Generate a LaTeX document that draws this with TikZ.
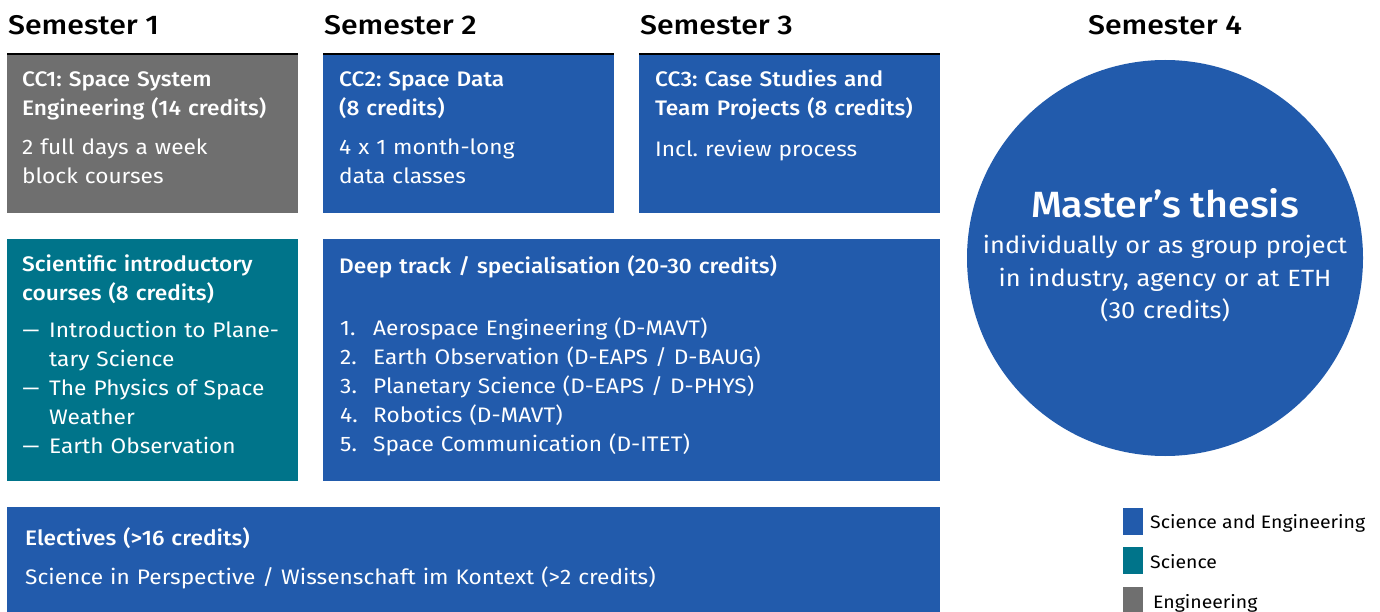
\documentclass[tikz,border=0pt]{standalone}
\usepackage{fontspec}
\setmainfont{Fira Sans}[BoldFont={Fira Sans Medium}, FakeStretch=1.08]
\newfontfamily\semfont{Fira Sans Medium}[FakeStretch=1.12]
\usepackage{tikz}
\usetikzlibrary{shapes.geometric, arrows}
\frenchspacing

\definecolor{sciengblue}{RGB}{34,91,172}
\definecolor{sciteal}{RGB}{0,116,138}
\definecolor{enggray}{RGB}{111,111,111}

\newcommand{\itemdash}{\makebox[27pt][l]{\scalebox{1.5}[1]{--}}}

\begin{document}
\begin{tikzpicture}[x=1pt,y=-1pt,inner sep=0pt,
  semhead/.style={anchor=base west,font=\semfont\fontsize{27}{32}\selectfont}]
\tikzstyle{block} = [rectangle, anchor=north west, draw=none]
\tikzstyle{head} = [anchor=base west, text width=290pt, align=left, text=white, font=\bfseries\fontsize{21}{29}\selectfont]
\tikzstyle{body} = [anchor=base west, text width=290pt, align=left, text=white, font=\fontsize{21}{29}\selectfont]
\tikzstyle{topline} = [line width=1.6pt, black]
\tikzstyle{legend} = [rectangle, anchor=north west, minimum width=20pt, minimum height=27pt]
\tikzstyle{legtext} = [anchor=base west, font=\fontsize{18}{22}\selectfont]

\useasboundingbox (0,0) rectangle (1380,612);

% semester titles
\node (sem1) at (8,35) [semhead] {Semester 1};
\node (sem2) at (324,35) [semhead] {Semester 2};
\node (sem3) at (640,35) [semhead] {Semester 3};
\node (sem4) at (1165,35) [semhead, anchor=base] {Semester 4};

% core courses
\node (cc1) at (7,54) [block, fill=enggray, minimum width=291pt, minimum height=159pt] {};
\node (cc2) at (323,54) [block, fill=sciengblue, minimum width=291pt, minimum height=159pt] {};
\node (cc3) at (639,54) [block, fill=sciengblue, minimum width=301pt, minimum height=159pt] {};
\draw[topline] (cc1.north west) -- (cc1.north east);
\draw[topline] (cc2.north west) -- (cc2.north east);
\draw[topline] (cc3.north west) -- (cc3.north east);

\node (cc1head) at (22,87) [head] {CC1: Space System\\Engineering (14 credits)};
\node (cc1body) at (22,155) [body] {2 full days a week\\block courses};
\node (cc2head) at (339,87) [head] {CC2: Space Data\\(8 credits)};
\node (cc2body) at (339,155) [body] {4 x 1 month-long\\data classes};
\node (cc3head) at (655,87) [head] {CC3: Case Studies and\\Team Projects (8 credits)};
\node (cc3body) at (655,157) [body] {Incl. review process};

% second row
\node (intro) at (7,239) [block, fill=sciteal, minimum width=291pt, minimum height=242pt] {};
\node (deep) at (323,239) [block, fill=sciengblue, minimum width=617pt, minimum height=242pt] {};

\node (introhead) at (22,271) [head] {Scientific introductory\\courses (8 credits)};
\node (introbody) at (22,337) [body] {\itemdash Introduction to Plane-\\
  \hspace*{27pt}tary Science\\
  \itemdash The Physics of Space\\
  \hspace*{27pt}Weather\\
  \itemdash Earth Observation};

\node (deephead) at (339,273) [head, text width=600pt] {Deep track / specialisation (20-30 credits)};
\node (deepbody) at (340,335) [body, text width=590pt] {\makebox[33pt][l]{1.}Aerospace Engineering (D-MAVT)\\
  \makebox[33pt][l]{2.}Earth Observation (D-EAPS / D-BAUG)\\
  \makebox[33pt][l]{3.}Planetary Science (D-EAPS / D-PHYS)\\
  \makebox[33pt][l]{4.}Robotics (D-MAVT)\\
  \makebox[33pt][l]{5.}Space Communication (D-ITET)};

% electives
\node (elec) at (7,507) [block, fill=sciengblue, minimum width=933pt, minimum height=105pt] {};
\node (elechead) at (25,545) [head, text width=900pt] {Electives (>16 credits)};
\node (elecbody) at (25,584) [body, text width=900pt] {Science in Perspective / Wissenschaft im Kontext (>2 credits)};

% thesis
\node (thesis) at (1165,258) [circle, fill=sciengblue, minimum size=396pt] {};
\node (thesishead) at (1165,218) [anchor=base, text=white, font=\bfseries\fontsize{36.5}{40}\selectfont] {Master’s thesis};
\node (thesisbody) at (1165,253) [anchor=base, text width=396pt, align=center, text=white, font=\fontsize{23.5}{33}\selectfont] {individually or as group project\\in industry, agency or at ETH\\(30 credits)};

% legend
\node (lg1) at (1123,508) [legend, fill=sciengblue] {};
\node (lg2) at (1123,547) [legend, fill=sciteal] {};
\node (lg3) at (1123,587) [legend, fill=enggray] {};
\node (lg1t) at (1150,528) [legtext] {Science and Engineering};
\node (lg2t) at (1150,568) [legtext] {Science};
\node (lg3t) at (1153,608) [legtext] {Engineering};

\end{tikzpicture}
\end{document}
